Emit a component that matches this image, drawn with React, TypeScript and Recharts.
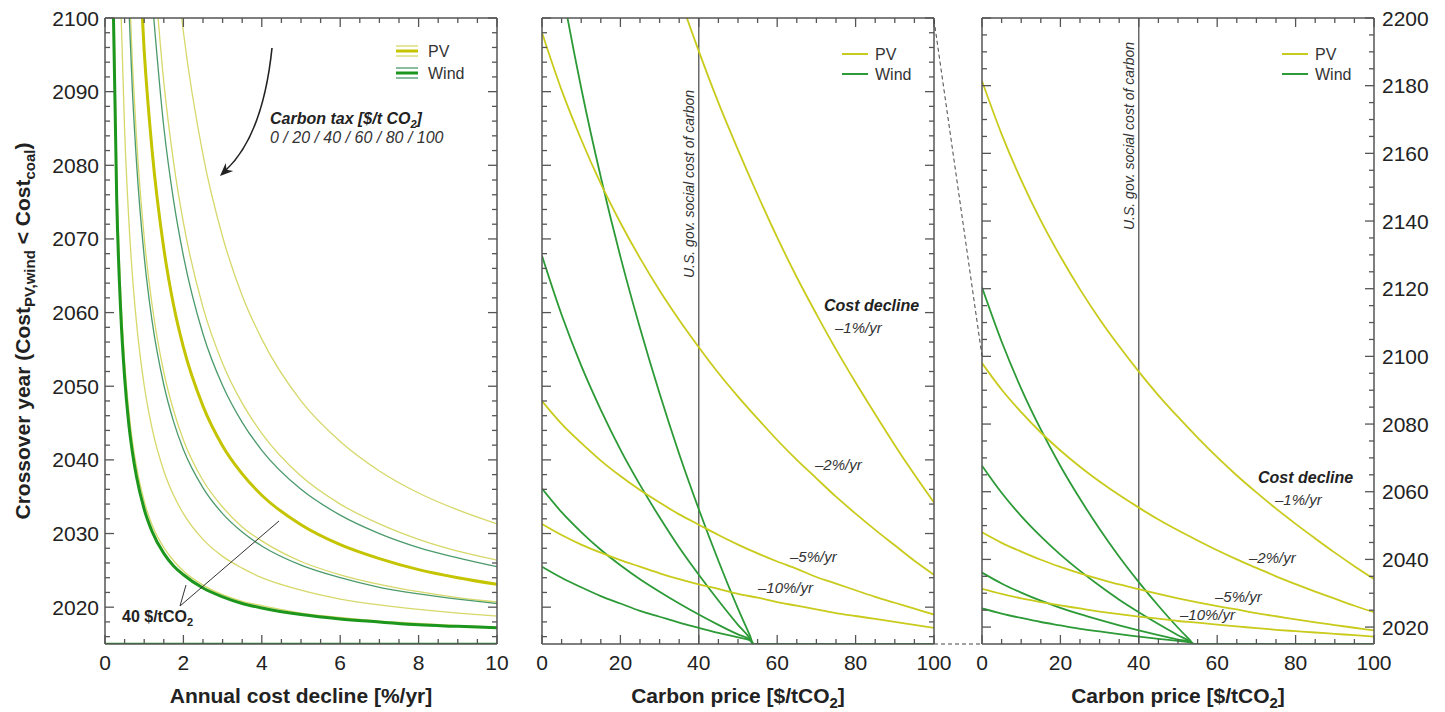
import React from "react";
import { LineChart, Line, XAxis, YAxis, ReferenceLine } from "recharts";

const FONT = "'Liberation Sans', Arial, Helvetica, sans-serif";
const INK = "#222";
const FRAME = "#555";

const PV_THIN = "#d6d86a";
const PV_THICK = "#c4c400";
const WIND_THIN = "#4b9a6c";
const WIND_THICK = "#1d961d";
const PV_LINE = "#c9cb1c";
const WIND_LINE = "#2c9a36";

// left panel: crossover year vs annual cost decline [%/yr], one curve per carbon tax
const declineRate = [0.2, 0.3, 0.4, 0.5, 0.6, 0.7, 0.8, 1, 1.2, 1.5, 1.75, 2, 2.5, 3, 3.5, 4, 5, 6, 7, 8, 9, 10];

const pvTax0 = [null, null, null, null, null, null, null, null, null, null, 2110.0, 2098.1, 2081.4, 2070.3, 2062.3, 2056.4, 2048.0, 2042.5, 2038.5, 2035.5, 2033.2, 2031.3];
const pvTax20 = [null, null, null, null, null, null, null, null, 2110.4, 2091.3, 2080.4, 2072.2, 2060.7, 2053.1, 2047.7, 2043.6, 2037.8, 2034.0, 2031.3, 2029.2, 2027.6, 2026.4];
const pvTax40 = [null, null, null, null, null, null, 2115.6, 2095.5, 2082.1, 2068.7, 2061.0, 2055.3, 2047.3, 2041.9, 2038.1, 2035.2, 2031.2, 2028.5, 2026.6, 2025.1, 2024.0, 2023.1];
const pvTax60 = [null, null, null, null, 2106.9, 2093.8, 2084.0, 2070.2, 2061.1, 2051.9, 2046.7, 2042.7, 2037.2, 2033.6, 2030.9, 2029.0, 2026.2, 2024.4, 2023.1, 2022.1, 2021.3, 2020.7];
const pvTax80 = [null, null, 2102.2, 2084.8, 2073.3, 2065.0, 2058.8, 2050.1, 2044.3, 2038.5, 2035.2, 2032.7, 2029.2, 2026.9, 2025.3, 2024.0, 2022.3, 2021.1, 2020.3, 2019.7, 2019.2, 2018.8];
const pvTax100 = [2110.4, 2078.7, 2062.9, 2053.4, 2047.1, 2042.5, 2039.2, 2034.4, 2031.2, 2028.1, 2026.3, 2024.9, 2023.0, 2021.7, 2020.8, 2020.2, 2019.2, 2018.6, 2018.1, 2017.8, 2017.5, 2017.3];
const windTax0 = [null, null, null, null, null, null, null, null, 2102.8, 2085.2, 2075.2, 2067.7, 2057.1, 2050.1, 2045.1, 2041.3, 2036.0, 2032.5, 2030.0, 2028.1, 2026.7, 2025.5];
const windTax20 = [null, null, null, null, 2102.5, 2090.0, 2080.7, 2067.6, 2058.9, 2050.2, 2045.2, 2041.4, 2036.2, 2032.7, 2030.2, 2028.3, 2025.7, 2024.0, 2022.7, 2021.8, 2021.1, 2020.5];
const windTax40 = [2104.9, 2075.1, 2060.2, 2051.2, 2045.2, 2041.0, 2037.8, 2033.3, 2030.3, 2027.3, 2025.6, 2024.4, 2022.6, 2021.4, 2020.5, 2019.9, 2019.0, 2018.4, 2018.0, 2017.6, 2017.4, 2017.2];
const flatRate = [0, 10];
const windTax60Plus = [2015, 2015];

// middle + right panels: crossover year vs carbon price [$/tCO2], one curve per cost decline
const carbonPrice = [0, 5, 10, 15, 20, 25, 30, 35, 40, 45, 50, 55, 60, 65, 70, 75, 80, 85, 90, 95, 100];
const pvDecline1 = [2181.4, 2165.7, 2152.1, 2140.1, 2129.5, 2119.8, 2111.0, 2103.0, 2095.5, 2088.5, 2082.1, 2076.0, 2070.2, 2064.8, 2059.8, 2055.0, 2050.5, 2046.2, 2042.0, 2038.0, 2034.2];
const pvDecline2 = [2098.0, 2090.2, 2083.5, 2077.5, 2072.2, 2067.4, 2063.0, 2059.0, 2055.3, 2051.8, 2048.6, 2045.6, 2042.7, 2040.0, 2037.5, 2035.0, 2032.7, 2030.5, 2028.4, 2026.3, 2024.4];
const pvDecline5 = [2048.0, 2044.9, 2042.3, 2039.9, 2037.8, 2035.9, 2034.2, 2032.6, 2031.2, 2029.8, 2028.5, 2027.3, 2026.2, 2025.2, 2024.1, 2023.2, 2022.3, 2021.4, 2020.6, 2019.8, 2019.0];
const pvDecline10 = [2031.3, 2029.8, 2028.5, 2027.4, 2026.4, 2025.5, 2024.6, 2023.8, 2023.1, 2022.5, 2021.8, 2021.3, 2020.7, 2020.2, 2019.7, 2019.2, 2018.8, 2018.4, 2018.0, 2017.6, 2017.2];

const windPrice = [0, 5, 10, 15, 20, 25, 30, 35, 40, 45, 50, 53, 54, 100];
const windDecline1 = [2120.4, 2104.4, 2090.5, 2078.4, 2067.6, 2057.9, 2049.0, 2040.8, 2033.3, 2026.3, 2019.8, 2016.2, 2015, 2015];
const windDecline2 = [2067.7, 2059.7, 2052.8, 2046.8, 2041.4, 2036.6, 2032.2, 2028.1, 2024.4, 2020.9, 2017.6, 2015.8, 2015, 2015];
const windDecline5 = [2036.1, 2032.9, 2030.2, 2027.8, 2025.7, 2023.8, 2022.1, 2020.5, 2019.0, 2017.6, 2016.3, 2015.6, 2015, 2015];
const windDecline10 = [2025.5, 2024.0, 2022.7, 2021.5, 2020.5, 2019.5, 2018.7, 2017.9, 2017.2, 2016.5, 2015.9, 2015.5, 2015, 2015];

// tick labels
const declineMajor = [0, 2, 4, 6, 8, 10];
const priceMajor = [0, 20, 40, 60, 80, 100];
const yearMajor = [2020, 2030, 2040, 2050, 2060, 2070, 2080, 2090, 2100];
const wideYearMajor = [2020, 2040, 2060, 2080, 2100, 2120, 2140, 2160, 2180, 2200];

const steps = (from: number, to: number, step: number) => {
  const out: number[] = [];
  for (let v = from; v <= to + 1e-9; v += step) out.push(Math.round(v * 100) / 100);
  return out;
};
const declineTicks = steps(0, 10, 0.5);
const priceTicks = steps(0, 100, 5);
const yearTicks = steps(2016, 2100, 2);
const wideYearTicks = steps(2020, 2200, 5);

const toPoints = (xs: number[], ys: (number | null)[]) =>
  xs.map((x, i) => ({ x, y: ys[i] })).filter((p) => p.y !== null);

type Side = "bottom" | "top" | "left" | "right";

const frameTick = (side: Side, major: number[], showLabels: boolean) =>
  function FrameTick(props: any) {
    const { x, y, payload } = props;
    const v = payload.value as number;
    const isMajor = major.includes(v);
    const len = isMajor ? 9 : 5;
    const dx = side === "left" ? len : side === "right" ? -len : 0;
    const dy = side === "bottom" ? -len : side === "top" ? len : 0;
    let label = null;
    if (showLabels && isMajor) {
      const common = { fill: INK, fontSize: 21, fontFamily: FONT };
      if (side === "bottom")
        label = <text x={x} y={y + 26} textAnchor="middle" {...common}>{v}</text>;
      if (side === "left")
        label = <text x={x - 6} y={y + 7.5} textAnchor="end" {...common}>{v}</text>;
      if (side === "right")
        label = <text x={x + 8} y={y + 7.5} textAnchor="start" {...common}>{v}</text>;
    }
    return (
      <g>
        <line x1={x} y1={y} x2={x + dx} y2={y + dy} stroke={FRAME} strokeWidth={1.3} />
        {label}
      </g>
    );
  };

type Series = { key: string; data: { x: number; y: number | null }[]; color: string; width: number };

type PanelProps = {
  width: number;
  margin: { top: number; right: number; bottom: number; left: number };
  xDomain: [number, number];
  xTicks: number[];
  xMajor: number[];
  yDomain: [number, number];
  yTicks: number[];
  yMajor: number[];
  labelSide: "left" | "right" | "none";
  series: Series[];
  refX?: number;
};

// axes are 1px thick so Recharts still draws them; margins below account for that
function Panel(p: PanelProps) {
  const axisLine = { stroke: FRAME, strokeWidth: 1.5 };
  return (
    <LineChart width={p.width} height={712} margin={p.margin}>
      <XAxis
        xAxisId={0}
        dataKey="x"
        type="number"
        domain={p.xDomain}
        ticks={p.xTicks}
        interval={0}
        allowDataOverflow
        height={1}
        tickSize={0}
        tickMargin={0}
        tickLine={false}
        axisLine={axisLine}
        tick={frameTick("bottom", p.xMajor, true)}
      />
      <XAxis
        xAxisId="top"
        orientation="top"
        dataKey="x"
        type="number"
        domain={p.xDomain}
        ticks={p.xTicks}
        interval={0}
        allowDataOverflow
        height={1}
        tickSize={0}
        tickMargin={0}
        tickLine={false}
        axisLine={axisLine}
        tick={frameTick("top", p.xMajor, false)}
      />
      <YAxis
        yAxisId={0}
        type="number"
        domain={p.yDomain}
        ticks={p.yTicks}
        interval={0}
        allowDataOverflow
        width={1}
        tickSize={0}
        tickMargin={0}
        tickLine={false}
        axisLine={axisLine}
        tick={frameTick("left", p.yMajor, p.labelSide === "left")}
      />
      <YAxis
        yAxisId="right"
        orientation="right"
        type="number"
        domain={p.yDomain}
        ticks={p.yTicks}
        interval={0}
        allowDataOverflow
        width={1}
        tickSize={0}
        tickMargin={0}
        tickLine={false}
        axisLine={axisLine}
        tick={frameTick("right", p.yMajor, p.labelSide === "right")}
      />
      {p.refX !== undefined && (
        <ReferenceLine x={p.refX} stroke="#444" strokeWidth={1.2} ifOverflow="hidden" />
      )}
      {p.series.map((s) => (
        <Line
          key={s.key}
          data={s.data}
          dataKey="y"
          type="monotone"
          stroke={s.color}
          strokeWidth={s.width}
          dot={false}
          activeDot={false}
          isAnimationActive={false}
        />
      ))}
    </LineChart>
  );
}

const leftSeries: Series[] = [
  { key: "wind60", data: toPoints(flatRate, windTax60Plus), color: WIND_THICK, width: 2.5 },
  { key: "pv0", data: toPoints(declineRate, pvTax0), color: PV_THIN, width: 1.3 },
  { key: "pv20", data: toPoints(declineRate, pvTax20), color: PV_THIN, width: 1.3 },
  { key: "pv60", data: toPoints(declineRate, pvTax60), color: PV_THIN, width: 1.3 },
  { key: "pv80", data: toPoints(declineRate, pvTax80), color: PV_THIN, width: 1.3 },
  { key: "pv100", data: toPoints(declineRate, pvTax100), color: PV_THIN, width: 1.3 },
  { key: "wind0", data: toPoints(declineRate, windTax0), color: WIND_THIN, width: 1.3 },
  { key: "wind20", data: toPoints(declineRate, windTax20), color: WIND_THIN, width: 1.3 },
  { key: "pv40", data: toPoints(declineRate, pvTax40), color: PV_THICK, width: 3 },
  { key: "wind40", data: toPoints(declineRate, windTax40), color: WIND_THICK, width: 3 },
];

const priceSeries: Series[] = [
  { key: "w1", data: toPoints(windPrice, windDecline1), color: WIND_LINE, width: 1.8 },
  { key: "w2", data: toPoints(windPrice, windDecline2), color: WIND_LINE, width: 1.8 },
  { key: "w5", data: toPoints(windPrice, windDecline5), color: WIND_LINE, width: 1.8 },
  { key: "w10", data: toPoints(windPrice, windDecline10), color: WIND_LINE, width: 1.8 },
  { key: "p1", data: toPoints(carbonPrice, pvDecline1), color: PV_LINE, width: 1.8 },
  { key: "p2", data: toPoints(carbonPrice, pvDecline2), color: PV_LINE, width: 1.8 },
  { key: "p5", data: toPoints(carbonPrice, pvDecline5), color: PV_LINE, width: 1.8 },
  { key: "p10", data: toPoints(carbonPrice, pvDecline10), color: PV_LINE, width: 1.8 },
];

function Overlay() {
  const small = { fill: "#333", fontFamily: FONT };
  const legend = (x: number, tx: number) => (
    <g>
      <line x1={x} x2={x + 26} y1={54} y2={54} stroke={PV_LINE} strokeWidth={2} />
      <line x1={x} x2={x + 26} y1={74} y2={74} stroke={WIND_LINE} strokeWidth={2} />
      <text x={tx} y={60} fontSize={16} {...small}>PV</text>
      <text x={tx} y={80} fontSize={16} {...small}>Wind</text>
    </g>
  );
  return (
    <svg
      width={1445}
      height={712}
      style={{ position: "absolute", left: 0, top: 0, pointerEvents: "none" }}
      fontFamily={FONT}
    >
      {/* axis titles */}
      <text transform="translate(30,331) rotate(-90)" textAnchor="middle" fontSize={21} fontWeight="bold" fill={INK}>
        Crossover year (Cost
        <tspan dy={5} fontSize={15}>PV,wind</tspan>
        <tspan dy={-5}> &lt; Cost</tspan>
        <tspan dy={5} fontSize={15}>coal</tspan>
        <tspan dy={-5}>)</tspan>
      </text>
      <text x={301} y={703} textAnchor="middle" fontSize={21} fontWeight="bold" fill={INK}>
        Annual cost decline [%/yr]
      </text>
      {[738, 1178].map((cx) => (
        <text key={cx} x={cx} y={703} textAnchor="middle" fontSize={21} fontWeight="bold" fill={INK}>
          Carbon price [$/tCO
          <tspan dy={5} fontSize={15}>2</tspan>
          <tspan dy={-5}>]</tspan>
        </text>
      ))}

      {/* left panel annotations */}
      <path d="M272 48 Q 263 135 226 170" fill="none" stroke={INK} strokeWidth={1.6} />
      <polygon points="220,176 233.3,171.1 226.5,169.8 225.7,163.1" fill={INK} />
      <text x={270} y={124} fontSize={16} fontWeight="bold" fontStyle="italic" fill={INK}>
        Carbon tax [$/t CO
        <tspan dy={4} fontSize={11}>2</tspan>
        <tspan dy={-4}>]</tspan>
      </text>
      <text x={270} y={143} fontSize={16} fontStyle="italic" fill="#333">
        0 / 20 / 40 / 60 / 80 / 100
      </text>
      <polyline points="279,521 180,606 186,585" fill="none" stroke="#333" strokeWidth={1} />
      <text x={122} y={622} fontSize={16} fontWeight="bold" fill={INK}>
        40 $/tCO
        <tspan dy={4} fontSize={11}>2</tspan>
      </text>
      <line x1={396} x2={418} y1={46} y2={46} stroke={PV_THIN} strokeWidth={1.3} />
      <line x1={396} x2={418} y1={51} y2={51} stroke={PV_THICK} strokeWidth={3} />
      <line x1={396} x2={418} y1={56} y2={56} stroke={PV_THIN} strokeWidth={1.3} />
      <line x1={396} x2={418} y1={68} y2={68} stroke={WIND_THIN} strokeWidth={1.3} />
      <line x1={396} x2={418} y1={73} y2={73} stroke={WIND_THICK} strokeWidth={3} />
      <line x1={396} x2={418} y1={78} y2={78} stroke={WIND_THIN} strokeWidth={1.3} />
      <text x={428} y={57} fontSize={16} {...small}>PV</text>
      <text x={428} y={79} fontSize={16} {...small}>Wind</text>

      {/* middle panel annotations */}
      {legend(842, 875)}
      <text transform="translate(694,278) rotate(-90)" fontSize={14} fontStyle="italic" {...small}>
        U.S. gov. social cost of carbon
      </text>
      <text x={824} y={311} fontSize={16} fontWeight="bold" fontStyle="italic" fill={INK}>Cost decline</text>
      <text x={835} y={333} fontSize={15} fontStyle="italic" {...small}>–1%/yr</text>
      <text x={815} y={470} fontSize={15} fontStyle="italic" {...small}>–2%/yr</text>
      <text x={790} y={562} fontSize={15} fontStyle="italic" {...small}>–5%/yr</text>
      <text x={758} y={593} fontSize={15} fontStyle="italic" {...small}>–10%/yr</text>

      {/* zoom connectors */}
      <line x1={934} y1={20} x2={982} y2={356} stroke="#444" strokeWidth={1} strokeDasharray="4 3" />
      <line x1={934} y1={644} x2={982} y2={644} stroke="#444" strokeWidth={1} strokeDasharray="4 3" />

      {/* right panel annotations */}
      {legend(1282, 1315)}
      <text transform="translate(1134,230) rotate(-90)" fontSize={14} fontStyle="italic" {...small}>
        U.S. gov. social cost of carbon
      </text>
      <text x={1258} y={483} fontSize={16} fontWeight="bold" fontStyle="italic" fill={INK}>Cost decline</text>
      <text x={1275} y={505} fontSize={15} fontStyle="italic" {...small}>–1%/yr</text>
      <text x={1249} y={563} fontSize={15} fontStyle="italic" {...small}>–2%/yr</text>
      <text x={1215} y={602} fontSize={15} fontStyle="italic" {...small}>–5%/yr</text>
      <text x={1180} y={620} fontSize={15} fontStyle="italic" {...small}>–10%/yr</text>
    </svg>
  );
}

export default function App() {
  return (
    <div
      style={{
        position: "absolute",
        left: 0,
        top: 0,
        width: 1445,
        height: 712,
        background: "#fff",
        fontFamily: FONT,
      }}
    >
      <div style={{ position: "absolute", left: 0, top: 0 }}>
        <Panel
          width={520}
          margin={{ top: 17, right: 22, bottom: 67, left: 104 }}
          xDomain={[0, 10]}
          xTicks={declineTicks}
          xMajor={declineMajor}
          yDomain={[2015, 2100]}
          yTicks={yearTicks}
          yMajor={yearMajor}
          labelSide="left"
          series={leftSeries}
        />
      </div>
      <div style={{ position: "absolute", left: 520, top: 0 }}>
        <Panel
          width={460}
          margin={{ top: 17, right: 45, bottom: 67, left: 21 }}
          xDomain={[0, 100]}
          xTicks={priceTicks}
          xMajor={priceMajor}
          yDomain={[2015, 2100]}
          yTicks={yearTicks}
          yMajor={yearMajor}
          labelSide="none"
          series={priceSeries}
          refX={40}
        />
      </div>
      <div style={{ position: "absolute", left: 960, top: 0 }}>
        <Panel
          width={485}
          margin={{ top: 17, right: 70, bottom: 67, left: 21 }}
          xDomain={[0, 100]}
          xTicks={priceTicks}
          xMajor={priceMajor}
          yDomain={[2015, 2200]}
          yTicks={wideYearTicks}
          yMajor={wideYearMajor}
          labelSide="right"
          series={priceSeries}
          refX={40}
        />
      </div>
      <Overlay />
    </div>
  );
}
